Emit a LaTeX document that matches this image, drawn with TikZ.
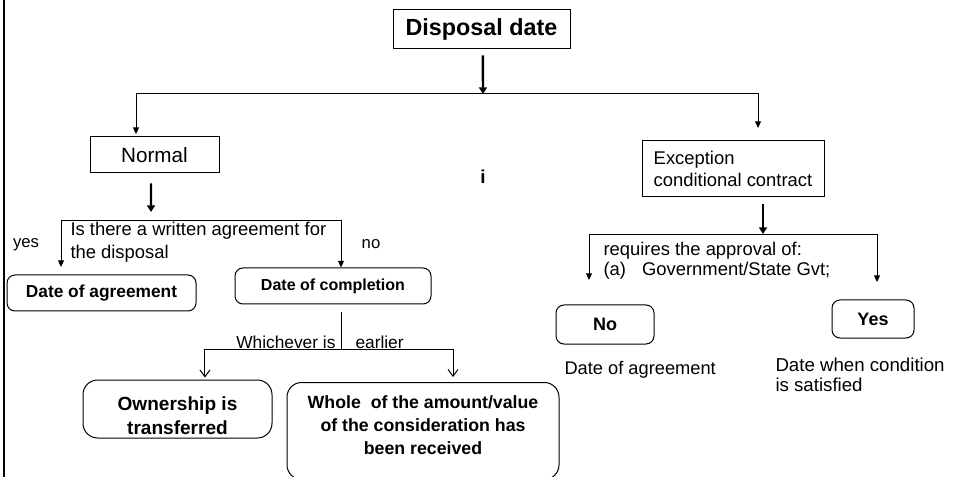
\documentclass[tikz,border=0pt]{standalone}
\usepackage{fontspec}
\setmainfont{Liberation Sans}
\usetikzlibrary{positioning, arrows.meta}

\begin{document}
\begin{tikzpicture}[
        x=0.75pt, y=-0.75pt,
        >={Triangle[length=5pt, width=4.5pt]},
        line width=0.75pt,
        plainbox/.style={draw, inner sep=0pt, align=center},
        softbox/.style={draw, rounded corners=#1, inner sep=0pt, align=center},
        softbox/.default=6pt,
        heavy/.style={-{Triangle[length=5pt, width=6pt]}, line width=1.8pt},
        fork/.style={-{Straight Barb[length=5pt, width=7.5pt]}},
        note/.style={inner sep=0pt, align=left}
    ]
        \useasboundingbox (0,0) rectangle (953,477);
        \draw[line width=2.2pt] (4,0) -- (4,477);

        \node[plainbox, minimum width=132.75pt, minimum height=29.25pt, font=\bfseries\fontsize{17.5}{21}\selectfont] (disposal) at (481.5,29.5) {Disposal date};
        \node[plainbox, minimum width=96.75pt, minimum height=27pt, font=\fontsize{15.5}{18}\selectfont] (normal) at (154.5,155) {Normal};
        \node[draw, minimum width=136.5pt, minimum height=42pt, inner sep=0pt, align=left, font=\fontsize{13.8}{16.5}\selectfont] (exception) at (733,169) {Exception\\conditional contract};
        \node[font=\bfseries\fontsize{14}{16}\selectfont] (gap) at (483,177) {i};

        \coordinate (split) at (483,94);
        \coordinate (normalin) at (136,134);
        \coordinate (exceptin) at (758,128);
        \draw[heavy] ([xshift=1pt, yshift=-4.5pt]disposal.south) -- (split);
        \draw[->] (split) -| (normalin);
        \draw[->] (split) -| (exceptin);

        % normal branch
        \node[note, anchor=west, font=\fontsize{13.8}{17.25}\selectfont] (question) at (70,242) {Is there a written agreement for\\the disposal};
        \node[note, font=\fontsize{12.5}{15}\selectfont] (yeslabel) at (26,245) {yes};
        \node[note, font=\fontsize{12.5}{15}\selectfont] (nolabel) at (371,244) {no};
        \node[softbox, minimum width=141.75pt, minimum height=27pt, font=\bfseries\fontsize{13}{16}\selectfont] (agreement) at (101.5,293) {Date of agreement};
        \node[softbox, minimum width=147pt, minimum height=27pt, font=\bfseries\fontsize{12}{14}\selectfont] (completion) at (333,286) {Date of completion};

        \coordinate (askin) at (151,212);
        \coordinate (askL) at (61,221);
        \coordinate (askR) at (341,221);
        \coordinate (yesdrop) at (61,267);
        \draw[heavy] ([xshift=-2.6pt, yshift=-7.5pt]normal.south) -- (askin);
        \draw[<->] (yesdrop) -- (askL) -- (askR) -- ([xshift=6pt]completion.north);

        \node[softbox=11pt, minimum width=141.75pt, minimum height=43.5pt, text height=38pt, font=\bfseries\fontsize{14.3}{18}\selectfont] (ownership) at (177.5,409) {Ownership is\\transferred};
        \node[softbox=11pt, minimum width=204pt, minimum height=72.75pt, text depth=9pt, font=\bfseries\fontsize{13.3}{17}\selectfont] (whole) at (423,431) {Whole\ \ of the amount/value\\of the consideration has\\been received};
        \node[note, anchor=east, font=\fontsize{13}{16}\selectfont] (whichever) at (336,342) {Whichever is};
        \node[note, anchor=west, font=\fontsize{13}{16}\selectfont] (earlier) at (355,342) {earlier};

        \coordinate (earliest) at (341,349);
        \draw ([xshift=6pt, yshift=-6pt]completion.south) -- (earliest);
        \draw[fork] (earliest) -| ([xshift=20.6pt, yshift=1.5pt]ownership.north);
        \draw[fork] (earliest) -| ([xshift=22.5pt, yshift=3.75pt]whole.north);

        % exception branch
        \node[note, anchor=west, font=\fontsize{13.8}{15}\selectfont] (requires) at (603,261) {requires the approval of:\\(a)\hspace{0.6em} Government/State Gvt;};
        \node[softbox, minimum width=73.5pt, minimum height=29.25pt, font=\bfseries\fontsize{13.5}{16}\selectfont] (nobox) at (605,324.5) {No};
        \node[softbox, minimum width=61.5pt, minimum height=28.5pt, font=\bfseries\fontsize{13.5}{16}\selectfont] (yesbox) at (873,319) {Yes};
        \node[note, anchor=west, font=\fontsize{13.7}{16}\selectfont] (noresult) at (564,370) {Date of agreement};
        \node[note, anchor=west, font=\fontsize{14}{15}\selectfont] (yesresult) at (775,375) {Date when condition\\is satisfied};

        \coordinate (approval) at (763,234);
        \coordinate (aprL) at (589,235);
        \coordinate (aprR) at (877,235);
        \coordinate (nodrop) at (589,280);
        \coordinate (yesin) at (877,282);
        \draw[heavy] ([xshift=22.5pt, yshift=-5.25pt]exception.south) -- (approval);
        \draw[<->] (nodrop) -- (aprL) -- (aprR) -- (yesin);
\end{tikzpicture}
\end{document}
